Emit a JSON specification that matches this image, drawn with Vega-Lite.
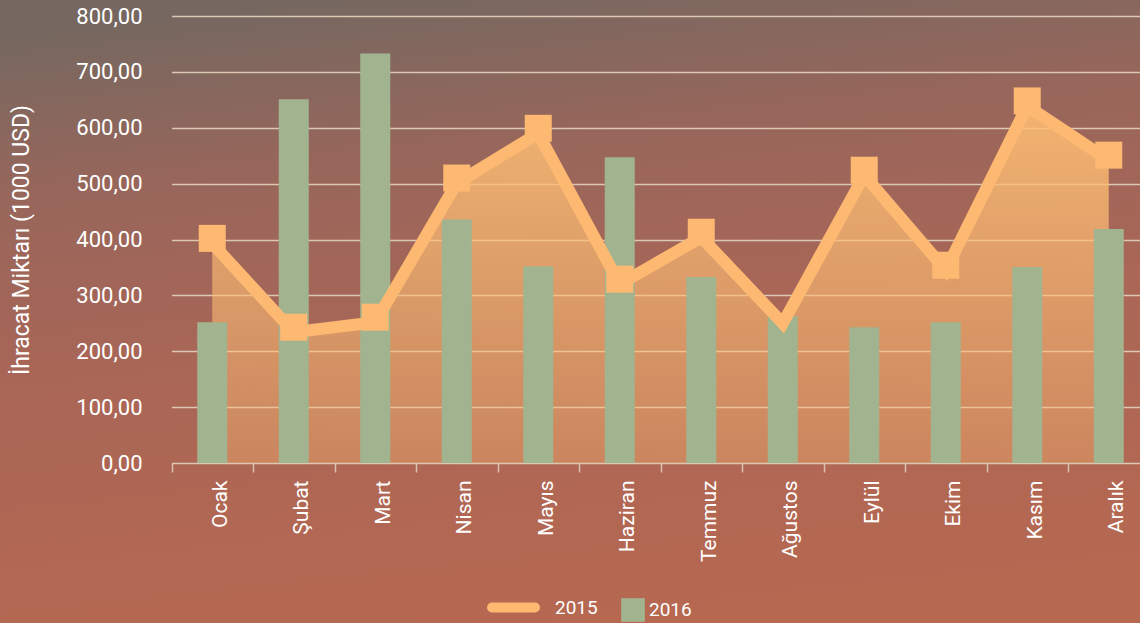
{
  "$schema": "https://vega.github.io/schema/vega-lite/v6.json",
  "autosize": {"type": "none"},
  "padding": 0,
  "width": 1140,
  "height": 623,
  "background": "#aa6656",
  "config": {
    "view": {
      "stroke": null,
      "fill": {
        "gradient": "linear", "x1": 0.3, "y1": 0, "x2": 0.5, "y2": 1,
        "stops": [
          {"offset": 0, "color": "#766860"},
          {"offset": 0.25, "color": "#98665b"},
          {"offset": 0.55, "color": "#aa6656"},
          {"offset": 1, "color": "#b66851"}
        ]
      }
    },
    "font": "Roboto",
    "axis": {"labelColor": "#ffffff", "titleColor": "#ffffff", "labelFont": "Roboto", "titleFont": "Roboto", "titleFontWeight": "normal"},
    "legend": {"labelColor": "#ffffff", "labelFont": "Roboto"}
  },
  "data": {
    "values": [
      {"month": "Ocak", "y2015": 402, "y2016": 252},
      {"month": "Şubat", "y2015": 243, "y2016": 651},
      {"month": "Mart", "y2015": 261, "y2016": 733},
      {"month": "Nisan", "y2015": 510, "y2016": 436},
      {"month": "Mayıs", "y2015": 599, "y2016": 352},
      {"month": "Haziran", "y2015": 329, "y2016": 547},
      {"month": "Temmuz", "y2015": 413, "y2016": 333},
      {"month": "Ağustos", "y2015": 259, "y2016": 263},
      {"month": "Eylül", "y2015": 524, "y2016": 243},
      {"month": "Ekim", "y2015": 354, "y2016": 252},
      {"month": "Kasım", "y2015": 648, "y2016": 351},
      {"month": "Aralık", "y2015": 551, "y2016": 419}
    ]
  },
  "encoding": {
    "x": {
      "field": "month", "type": "nominal", "sort": null,
      "scale": {"range": [171.5, 1149.5], "paddingInner": 0, "paddingOuter": 0},
      "axis": {
        "title": null, "labelAngle": -90, "labelFontSize": 21, "labelPadding": 8, "labelOffset": 8,
        "offset": -160,
        "tickBand": "extent", "tickSize": 9, "tickColor": "#d9c3b0", "tickWidth": 1.5,
        "domain": false, "grid": false
      }
    }
  },
  "layer": [
    {
      "mark": {
        "type": "area", "yOffset": 6, "y2Offset": 0,
        "fill": {
          "x1": 0, "y1": 0, "x2": 0, "y2": 1, "gradient": "linear",
          "stops": [
            {"offset": 0, "color": "rgba(255,190,115,0.88)"},
            {"offset": 1, "color": "rgba(255,190,115,0.35)"}
          ]
        }
      },
      "encoding": {
        "y": {"field": "y2015", "type": "quantitative"},
        "y2": {"datum": 0}
      }
    },
    {
      "mark": {"type": "bar", "width": 30, "opacity": 1},
      "encoding": {
        "y": {
          "field": "y2016", "type": "quantitative",
          "scale": {"domain": [0, 800], "nice": false, "range": [463, 16]},
          "axis": {
            "title": "İhracat Miktarı (1000 USD)", "titleFontSize": 23, "titlePadding": 42,
            "offset": -162,
            "values": [0, 100, 200, 300, 400, 500, 600, 700, 800],
            "labelExpr": "replace(format(datum.value, '.2f'), '.', ',')",
            "labelFontSize": 22, "labelPadding": 20,
            "ticks": false, "domain": false,
            "grid": true, "gridColor": "#dcc6b4", "gridWidth": 1.5
          }
        },
        "fill": {
          "datum": "2016", "type": "nominal",
          "scale": {"domain": ["2016"], "range": ["#a2b48f"]},
          "legend": {
            "title": null, "orient": "none", "direction": "horizontal",
            "legendX": 621, "legendY": 598,
            "labelFontSize": 19, "labelOffset": 4,
            "symbolType": "square", "symbolSize": 560, "symbolStrokeWidth": 0, "symbolOpacity": 1
          }
        }
      }
    },
    {
      "mark": {"type": "line", "strokeWidth": 12, "strokeJoin": "miter", "yOffset": 5},
      "encoding": {
        "y": {"field": "y2015", "type": "quantitative"},
        "stroke": {
          "datum": "2015", "type": "nominal",
          "scale": {"domain": ["2015"], "range": ["#fdb972"]},
          "legend": {
            "title": null, "orient": "none", "direction": "horizontal",
            "legendX": 487, "legendY": 581,
            "labelFontSize": 19, "labelOffset": 15,
            "symbolType": "stroke", "symbolSize": 1849, "symbolStrokeWidth": 10, "symbolOpacity": 1,
            "encode": {"symbols": {"update": {"strokeCap": {"value": "round"}}}}
          }
        }
      }
    },
    {
      "transform": [{"filter": "datum.month !== 'Ağustos'"}],
      "mark": {"type": "square", "size": 729, "filled": true, "opacity": 1, "color": "#fdb972"},
      "encoding": {
        "y": {"field": "y2015", "type": "quantitative"}
      }
    }
  ]
}
